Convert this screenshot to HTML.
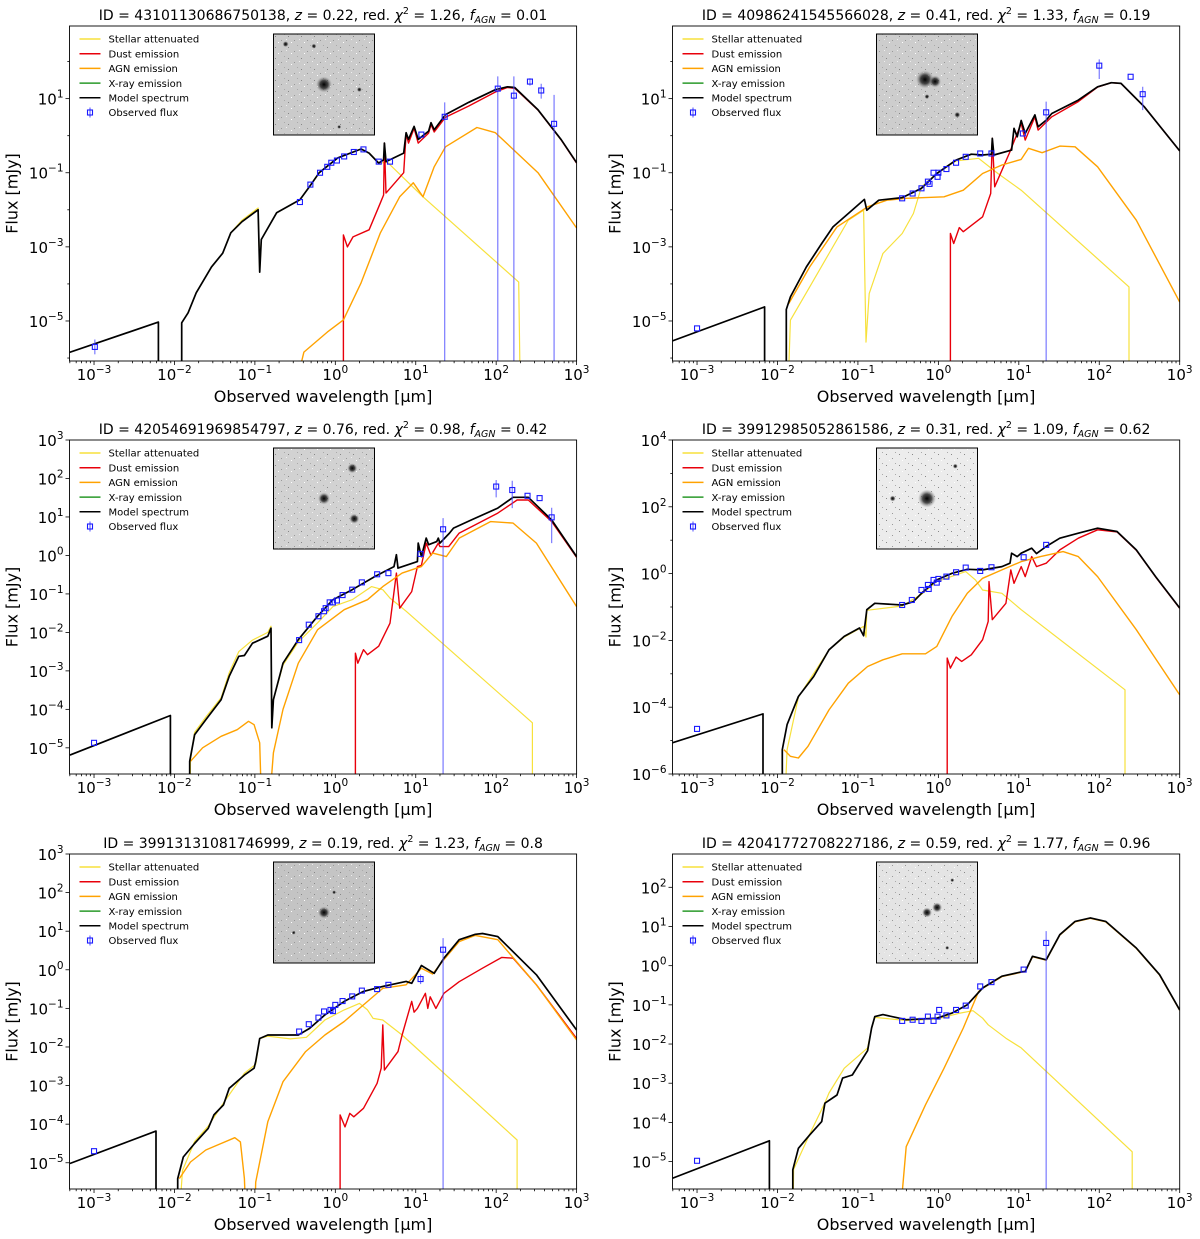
<!DOCTYPE html>
<html><head><meta charset="utf-8"><style>
html,body{margin:0;padding:0;background:#fff}
svg{display:block;font-family:"DejaVu Sans","Liberation Sans",sans-serif}
</style></head><body>
<svg id="fig" width="1200" height="1239" viewBox="0 0 1200 1239" xmlns="http://www.w3.org/2000/svg">
<defs>
<radialGradient id="blob"><stop offset="0" stop-color="#000"/><stop offset="0.5" stop-color="#222" stop-opacity="0.8"/><stop offset="1" stop-color="#888" stop-opacity="0"/></radialGradient>
<pattern id="speck" width="13" height="11" patternUnits="userSpaceOnUse"><rect x="2" y="3" width="1" height="1" fill="#888"/><rect x="8" y="7" width="1" height="1" fill="#999"/><rect x="11" y="1" width="1" height="1" fill="#aaa"/><rect x="5" y="9" width="1" height="1" fill="#fff"/><rect x="0" y="6" width="1" height="1" fill="#eee"/></pattern>
</defs>
</svg>
<script>
// ---- data (log10 wavelength [um], log10 flux [mJy]) ----
const xTickLabels = [-3,-2,-1,0,1,2,3];
const panelTitles = [
 ["43101130686750138","0.22","1.26","0.01"],
 ["40986241545566028","0.41","1.33","0.19"],
 ["42054691969854797","0.76","0.98","0.42"],
 ["39912985052861586","0.31","1.09","0.62"],
 ["39913131081746999","0.19","1.23","0.8"],
 ["42041772708227186","0.59","1.77","0.96"]];
const p1YLabels=[1,-1,-3,-5], p2YLabels=[1,-1,-3,-5], p3YLabels=[3,2,1,0,-1,-2,-3,-4,-5], p4YLabels=[4,2,0,-2,-4,-6], p5YLabels=[3,2,1,0,-1,-2,-3,-4,-5], p6YLabels=[2,1,0,-1,-2,-3,-4,-5];

const p1Model=[[-3.32,-5.86],[-2.2,-5.03],[-2.2,-7],[-1.91,-7],[-1.91,-5.05],[-1.83,-4.78],[-1.73,-4.24],[-1.54,-3.54],[-1.40,-3.17],[-1.30,-2.62],[-1.16,-2.32],[-0.96,-2.0],[-0.94,-3.68],[-0.92,-2.8],[-0.73,-2.08],[-0.44,-1.73],[-0.32,-1.37],[-0.2,-1.0],[0.03,-0.6],[0.32,-0.36],[0.42,-0.47],[0.54,-0.74],[0.6,-0.65],[0.61,-0.2],[0.63,-0.7],[0.85,-0.47],[0.88,0.08],[0.91,-0.1],[0.98,0.25],[1.03,-0.1],[1.16,0.12],[1.19,0.35],[1.23,0.16],[1.37,0.57],[1.66,0.9],[1.99,1.24],[2.14,1.32],[2.23,1.3],[2.52,0.7],[2.81,-0.11],[3.0,-0.73]];
const p1Stellar=[[-1.91,-7],[-1.91,-5.05],[-1.83,-4.78],[-1.73,-4.24],[-1.54,-3.54],[-1.40,-3.17],[-1.30,-2.62],[-1.16,-2.28],[-0.96,-1.95],[-0.94,-3.68],[-0.92,-2.8],[-0.73,-2.08],[-0.44,-1.73],[-0.32,-1.37],[-0.2,-1.0],[0.03,-0.6],[0.32,-0.36],[0.42,-0.47],[0.54,-0.74],[0.65,-0.72],[1.09,-1.65],[2.28,-3.95],[2.3,-7]];
const p1Dust=[[0.1,-7],[0.1,-2.68],[0.15,-3.0],[0.22,-2.73],[0.42,-2.54],[0.56,-1.81],[0.6,-1.6],[0.61,-0.2],[0.63,-1.55],[0.85,-1.0],[0.88,0.05],[0.91,-0.2],[0.98,0.2],[1.03,-0.2],[1.16,0.07],[1.19,0.3],[1.23,0.1],[1.37,0.5],[1.66,0.8],[1.99,1.18],[2.14,1.3],[2.23,1.28],[2.52,0.69],[2.81,-0.12],[3.0,-0.74]];
const p1Agn=[[-0.52,-7],[-0.39,-5.84],[-0.1,-5.3],[0.1,-4.97],[0.32,-3.97],[0.56,-2.62],[0.8,-1.65],[0.97,-1.27],[1.09,-1.65],[1.23,-0.84],[1.37,-0.3],[1.76,0.22],[1.99,0.08],[2.52,-1.0],[3.0,-2.49]];
const p1Obs=[[-2.99,-5.7],[-0.44,-1.79],[-0.31,-1.32],[-0.19,-1.0],[-0.1,-0.84],[-0.05,-0.73],[0.02,-0.67],[0.11,-0.56],[0.23,-0.44],[0.35,-0.37],[0.54,-0.7],[0.68,-0.7],[1.07,0.03],[1.36,0.51],[2.02,1.27],[2.22,1.08],[2.42,1.46],[2.56,1.22],[2.72,0.32]];
const p1Err=[[-2.99,-5.9,-5.5],[1.36,-7,0.9],[2.02,-7,1.6],[2.22,-7,1.6],[2.42,1.35,1.55],[2.56,1.0,1.4],[2.72,-7,1.1]];

const p2Model=[[-3.31,-5.54],[-2.16,-4.62],[-2.16,-7],[-1.89,-7],[-1.89,-4.69],[-1.84,-4.35],[-1.64,-3.54],[-1.45,-2.91],[-1.31,-2.46],[-1.12,-2.1],[-0.92,-1.72],[-0.89,-2.01],[-0.74,-1.74],[-0.45,-1.67],[-0.21,-1.42],[-0.02,-1.02],[0.22,-0.66],[0.41,-0.5],[0.55,-0.52],[0.66,-0.5],[0.67,-0.07],[0.69,-0.52],[0.91,-0.39],[0.94,0.2],[0.98,-0.03],[1.03,0.41],[1.08,0.06],[1.2,0.56],[1.24,0.24],[1.34,0.42],[1.41,0.6],[1.74,0.96],[1.98,1.32],[2.15,1.43],[2.27,1.41],[2.56,0.78],[3.0,-0.41]];
const p2Stellar=[[-1.87,-7],[-1.84,-4.98],[-1.6,-4.08],[-1.36,-3.18],[-1.12,-2.28],[-0.93,-2.01],[-0.9,-5.57],[-0.86,-4.26],[-0.69,-3.18],[-0.45,-2.64],[-0.31,-2.1],[-0.21,-1.38],[-0.02,-1.02],[0.22,-0.68],[0.5,-0.61],[0.74,-1.02],[1.03,-1.47],[2.37,-4.08],[2.37,-7]];
const p2Dust=[[0.15,-7],[0.15,-2.64],[0.19,-2.91],[0.26,-2.48],[0.31,-2.59],[0.55,-2.19],[0.65,-1.56],[0.67,-0.07],[0.7,-1.38],[0.88,-0.48],[1.03,0.33],[1.08,-0.12],[1.2,0.51],[1.24,0.15],[1.41,0.51],[1.74,0.92],[1.98,1.31],[2.15,1.43],[2.27,1.41],[2.56,0.78],[3.0,-0.41]];
const p2Agn=[[-1.86,-4.53],[-1.6,-3.54],[-1.26,-2.46],[-0.88,-1.92],[-0.64,-1.74],[-0.4,-1.69],[0.07,-1.65],[0.31,-1.47],[0.55,-1.02],[0.79,-0.79],[1.03,-0.64],[1.12,-0.34],[1.29,-0.46],[1.51,-0.28],[1.7,-0.3],[1.98,-0.84],[2.46,-2.28],[3.0,-4.49]];
const p2Obs=[[-3.0,-5.2],[-0.45,-1.69],[-0.32,-1.56],[-0.21,-1.42],[-0.13,-1.24],[-0.11,-1.3],[-0.06,-1.0],[-0.01,-1.11],[0.0,-1.0],[0.1,-0.9],[0.22,-0.73],[0.34,-0.57],[0.52,-0.48],[0.66,-0.48],[1.05,0.06],[1.34,0.63],[2.0,1.89],[2.39,1.59],[2.54,1.12]];
const p2Err=[[1.34,-7,0.92],[2.0,1.53,2.06],[2.54,0.69,1.32]];

const p3Model=[[-3.3,-5.19],[-2.05,-4.16],[-2.05,-7],[-1.81,-7],[-1.81,-5.35],[-1.75,-4.66],[-1.61,-4.27],[-1.42,-3.75],[-1.32,-3.14],[-1.2,-2.62],[-1.13,-2.6],[-1.03,-2.28],[-0.84,-2.1],[-0.8,-1.89],[-0.79,-4.48],[-0.77,-3.75],[-0.65,-2.8],[-0.46,-2.19],[-0.22,-1.58],[-0.03,-1.15],[0.21,-0.89],[0.49,-0.55],[0.73,-0.29],[0.76,0.02],[0.78,-0.33],[1.02,-0.16],[1.03,0.32],[1.07,-0.03],[1.13,0.45],[1.16,0.28],[1.26,0.36],[1.28,0.45],[1.3,0.32],[1.42,0.58],[1.47,0.71],[1.69,0.92],[2.02,1.23],[2.21,1.51],[2.4,1.51],[2.69,0.92],[3.0,-0.03]];
const p3Stellar=[[-1.81,-7],[-1.8,-5.3],[-1.75,-4.6],[-1.61,-4.2],[-1.42,-3.7],[-1.32,-3.05],[-1.2,-2.5],[-1.03,-2.2],[-0.84,-2.0],[-0.8,-1.84],[-0.79,-4.48],[-0.77,-3.75],[-0.65,-2.85],[-0.46,-2.25],[-0.22,-1.75],[-0.03,-1.33],[0.21,-1.15],[0.45,-0.81],[0.59,-0.89],[0.68,-1.11],[0.88,-1.45],[2.45,-4.35],[2.45,-7]];
const p3Dust=[[0.25,-7],[0.25,-2.54],[0.28,-2.8],[0.35,-2.45],[0.4,-2.58],[0.54,-2.36],[0.68,-1.76],[0.76,-0.46],[0.8,-1.37],[0.95,-0.94],[1.02,-0.29],[1.07,-0.26],[1.13,0.32],[1.19,0.0],[1.28,0.32],[1.3,0.23],[1.41,0.23],[1.54,0.58],[2.02,1.1],[2.26,1.44],[2.4,1.44],[2.69,0.88],[3.0,-0.05]];
const p3Agn=[[-1.8,-5.35],[-1.65,-5.0],[-1.42,-4.7],[-1.22,-4.53],[-1.08,-4.31],[-1.01,-4.4],[-0.94,-4.87],[-0.91,-7],[-0.84,-7],[-0.77,-5.13],[-0.65,-4.0],[-0.46,-2.8],[-0.22,-1.93],[0.11,-1.41],[0.4,-1.15],[0.59,-0.81],[0.83,-0.46],[1.07,-0.29],[1.21,0.06],[1.38,-0.03],[1.54,0.45],[1.93,0.88],[2.21,0.84],[2.5,0.32],[3.0,-1.33]];
const p3Obs=[[-3.0,-4.87],[-0.45,-2.2],[-0.33,-1.8],[-0.21,-1.58],[-0.14,-1.45],[-0.12,-1.37],[-0.07,-1.22],[-0.03,-1.22],[0.02,-1.17],[0.09,-1.03],[0.21,-0.89],[0.33,-0.7],[0.52,-0.49],[0.66,-0.46],[1.06,0.04],[1.34,0.68],[2.0,1.79],[2.2,1.7],[2.39,1.55],[2.54,1.49],[2.69,0.99]];
const p3Err=[[1.34,-7,0.97],[2.0,1.51,1.96],[2.2,1.23,1.94],[2.69,0.32,1.24]];

const p4Model=[[-3.31,-5.07],[-2.18,-4.2],[-2.18,-7],[-1.94,-7],[-1.94,-5.27],[-1.88,-4.52],[-1.74,-3.68],[-1.55,-3.08],[-1.36,-2.28],[-1.17,-1.88],[-0.98,-1.63],[-0.93,-1.86],[-0.89,-1.08],[-0.79,-0.89],[-0.45,-0.94],[-0.31,-0.84],[-0.21,-0.59],[-0.02,-0.19],[0.17,0.01],[0.36,0.13],[0.55,0.11],[0.79,0.21],[0.89,0.31],[0.91,0.61],[0.98,0.51],[1.03,0.61],[1.16,0.76],[1.22,0.6],[1.34,0.81],[1.51,1.06],[1.74,1.21],[1.98,1.36],[2.22,1.26],[2.46,0.71],[2.7,-0.09],[3.0,-1.03]];
const p4Stellar=[[-1.91,-7],[-1.88,-5.27],[-1.74,-3.7],[-1.36,-2.28],[-1.17,-1.9],[-0.93,-1.58],[-0.9,-1.9],[-0.89,-1.1],[-0.45,-0.97],[-0.21,-0.62],[-0.02,-0.24],[0.34,0.06],[0.46,-0.19],[0.55,-0.49],[0.79,-0.59],[1.03,-1.08],[2.32,-3.48],[2.32,-7]];
const p4Dust=[[0.11,-7],[0.11,-2.53],[0.15,-2.83],[0.22,-2.5],[0.29,-2.63],[0.41,-2.43],[0.55,-1.98],[0.62,-1.43],[0.63,-0.24],[0.67,-1.38],[0.84,-0.89],[0.9,0.11],[0.94,-0.29],[1.03,0.21],[1.08,-0.09],[1.16,0.51],[1.22,0.21],[1.34,0.31],[1.51,0.71],[1.74,1.06],[1.98,1.31],[2.22,1.25],[2.46,0.7],[2.7,-0.1],[3.0,-1.04]];
const p4Agn=[[-1.92,-5.27],[-1.84,-5.47],[-1.74,-5.52],[-1.62,-5.17],[-1.36,-4.08],[-1.12,-3.28],[-0.88,-2.78],[-0.69,-2.58],[-0.45,-2.4],[-0.16,-2.4],[-0.02,-2.18],[0.17,-1.28],[0.36,-0.59],[0.55,-0.14],[0.79,0.11],[1.03,0.36],[1.27,0.51],[1.55,0.66],[1.74,0.51],[1.98,-0.09],[2.46,-1.68],[3.0,-3.63]];
const p4Obs=[[-3.0,-4.65],[-0.45,-0.94],[-0.33,-0.79],[-0.21,-0.49],[-0.13,-0.34],[-0.12,-0.46],[-0.06,-0.19],[-0.02,-0.27],[0.0,-0.16],[0.1,-0.09],[0.22,0.04],[0.34,0.18],[0.52,0.08],[0.66,0.19],[1.06,0.49],[1.34,0.86]];
const p4Err=[];

const p5Model=[[-3.3,-5.02],[-2.23,-4.18],[-2.23,-7],[-1.96,-7],[-1.96,-5.41],[-1.89,-4.85],[-1.75,-4.5],[-1.58,-4.11],[-1.51,-3.76],[-1.39,-3.5],[-1.32,-3.07],[-1.13,-2.73],[-1.01,-2.55],[-0.99,-2.38],[-0.94,-1.78],[-0.84,-1.69],[-0.46,-1.69],[-0.32,-1.52],[-0.13,-1.17],[0.11,-0.82],[0.35,-0.56],[0.59,-0.43],[0.88,-0.3],[0.95,-0.35],[1.07,0.11],[1.23,-0.09],[1.35,0.3],[1.54,0.78],[1.74,0.92],[1.83,0.94],[2.02,0.86],[2.5,-0.13],[3.0,-1.56]];
const p5Stellar=[[-1.96,-7],[-1.9,-5.2],[-1.75,-4.45],[-1.58,-4.05],[-1.39,-3.45],[-1.13,-2.68],[-0.99,-2.45],[-0.94,-1.78],[-0.84,-1.72],[-0.56,-1.79],[-0.36,-1.75],[-0.13,-1.3],[0.11,-1.04],[0.3,-0.87],[0.4,-1.04],[0.47,-1.26],[0.59,-1.3],[0.83,-1.69],[2.26,-4.41],[2.26,-7]];
const p5Dust=[[0.06,-7],[0.06,-3.76],[0.12,-4.07],[0.18,-3.72],[0.23,-3.81],[0.35,-3.59],[0.52,-2.94],[0.57,-2.55],[0.59,-1.43],[0.61,-2.6],[0.78,-2.12],[0.83,-1.69],[0.95,-0.82],[0.98,-1.1],[1.02,-1.0],[1.12,-0.61],[1.15,-1.0],[1.18,-0.7],[1.25,-1.0],[1.35,-0.61],[1.54,-0.31],[1.83,0.04],[2.07,0.32],[2.21,0.3],[2.5,-0.39],[3.0,-1.78]];
const p5Agn=[[-1.94,-5.41],[-1.8,-4.98],[-1.61,-4.67],[-1.42,-4.5],[-1.25,-4.35],[-1.18,-4.46],[-1.13,-5.41],[-1.1,-7],[-1.01,-7],[-0.99,-5.5],[-0.84,-3.94],[-0.65,-2.9],[-0.37,-2.12],[-0.13,-1.69],[0.11,-1.34],[0.35,-0.91],[0.59,-0.48],[0.88,-0.39],[1.07,0.04],[1.21,-0.11],[1.35,0.26],[1.54,0.73],[1.74,0.89],[2.02,0.78],[2.5,-0.39],[3.0,-1.82]];
const p5Obs=[[-3.0,-4.7],[-0.45,-1.6],[-0.33,-1.41],[-0.21,-1.24],[-0.14,-1.08],[-0.06,-1.04],[-0.03,-1.07],[0.0,-0.91],[0.09,-0.81],[0.21,-0.69],[0.33,-0.54],[0.52,-0.5],[0.66,-0.39],[1.06,-0.24],[1.34,0.52]];
const p5Err=[[1.34,-7,0.82],[1.06,-0.37,-0.12]];

const p6Model=[[-3.31,-5.43],[-2.1,-4.47],[-2.1,-7],[-1.81,-7],[-1.81,-5.21],[-1.74,-4.66],[-1.6,-4.32],[-1.45,-3.98],[-1.41,-3.51],[-1.26,-3.3],[-1.19,-2.87],[-1.07,-2.79],[-0.88,-2.17],[-0.83,-1.59],[-0.79,-1.3],[-0.69,-1.25],[-0.4,-1.38],[-0.02,-1.34],[0.17,-1.21],[0.36,-1.0],[0.55,-0.57],[0.79,-0.27],[1.03,-0.16],[1.08,-0.15],[1.17,0.24],[1.34,0.15],[1.51,0.79],[1.7,1.13],[1.89,1.22],[2.08,1.13],[2.46,0.45],[2.75,-0.23],[3.0,-1.13]];
const p6Stellar=[[-1.81,-7],[-1.8,-5.2],[-1.6,-4.3],[-1.41,-3.5],[-1.36,-3.25],[-1.17,-2.62],[-0.88,-2.1],[-0.83,-1.6],[-0.79,-1.32],[-0.4,-1.4],[-0.02,-1.36],[0.27,-1.21],[0.43,-1.15],[0.55,-1.34],[0.62,-1.51],[0.84,-1.85],[1.03,-2.1],[2.41,-4.75],[2.41,-7]];
const p6Dust=[];
const p6Agn=[[-0.5,-7],[-0.4,-4.62],[-0.16,-3.55],[0.07,-2.62],[0.31,-1.59],[0.5,-0.66],[0.55,-0.58],[0.79,-0.28],[1.03,-0.17],[1.08,-0.16],[1.17,0.23],[1.34,0.14],[1.51,0.78],[1.7,1.12],[1.89,1.21],[2.08,1.12],[2.46,0.44],[2.75,-0.24],[3.0,-1.14]];
const p6Obs=[[-3.0,-4.98],[-0.45,-1.41],[-0.32,-1.38],[-0.21,-1.41],[-0.13,-1.3],[-0.06,-1.41],[-0.01,-1.3],[0.01,-1.13],[0.1,-1.27],[0.22,-1.13],[0.34,-1.02],[0.52,-0.53],[0.66,-0.42],[1.06,-0.1],[1.34,0.58]];
const p6Err=[[1.34,-7,0.88]];

// ---- layout ----
const svg=document.getElementById('fig');
const NS='http://www.w3.org/2000/svg';
const L={x0:69.5,x1:576.6}, R={x0:672.5,x1:1179.7};
const panels=[
 {c:L,y0:26,y1:361,ymin:-6.08,ymax:2.96,yl:p1YLabels,m:p1Model,s:p1Stellar,d:p1Dust,a:p1Agn,o:p1Obs,e:p1Err,inset:'#cbcbcb'},
 {c:R,y0:26,y1:361,ymin:-6.08,ymax:2.96,yl:p2YLabels,m:p2Model,s:p2Stellar,d:p2Dust,a:p2Agn,o:p2Obs,e:p2Err,inset:'#cdcdcd'},
 {c:L,y0:440,y1:774,ymin:-5.68,ymax:3,yl:p3YLabels,m:p3Model,s:p3Stellar,d:p3Dust,a:p3Agn,o:p3Obs,e:p3Err,inset:'#d2d2d2'},
 {c:R,y0:440,y1:774,ymin:-6,ymax:4,yl:p4YLabels,m:p4Model,s:p4Stellar,d:p4Dust,a:p4Agn,o:p4Obs,e:p4Err,inset:'#ececec'},
 {c:L,y0:854,y1:1189,ymin:-5.68,ymax:3,yl:p5YLabels,m:p5Model,s:p5Stellar,d:p5Dust,a:p5Agn,o:p5Obs,e:p5Err,inset:'#c4c4c4'},
 {c:R,y0:854,y1:1189,ymin:-5.7,ymax:2.85,yl:p6YLabels,m:p6Model,s:p6Stellar,d:p6Dust,a:p6Agn,o:p6Obs,e:p6Err,inset:'#e4e4e4'}];
const XMIN=-3.305, XMAX=3.0;
const blobs=[[[0.5,0.5,8],[0.12,0.1,3],[0.4,0.12,2.5],[0.85,0.55,2.5],[0.65,0.92,2]],[[0.48,0.45,9],[0.58,0.47,6],[0.5,0.62,2.5],[0.8,0.8,3]],[[0.5,0.5,6],[0.78,0.2,5],[0.8,0.7,5]],[[0.5,0.5,9],[0.16,0.5,3],[0.78,0.18,2.5]],[[0.5,0.5,6],[0.6,0.3,2],[0.2,0.7,2]],[[0.5,0.5,5],[0.6,0.45,5],[0.75,0.18,2],[0.7,0.85,2]]];

function el(tag,attrs,parent){const e=document.createElementNS(NS,tag);for(const k in attrs)e.setAttribute(k,attrs[k]);(parent||svg).appendChild(e);return e;}

panels.forEach((p,i)=>{
  const W=p.c.x1-p.c.x0, H=p.y1-p.y0;
  const sx=v=>p.c.x0+(v-XMIN)/(XMAX-XMIN)*W;
  const sy=v=>p.y0+(p.ymax-v)/(p.ymax-p.ymin)*H;
  const g=el('g',{});
  
  
  const cp=el('clipPath',{id:'clip'+i},g); el('rect',{x:p.c.x0,y:p.y0,width:W,height:H},cp);
  const t=panelTitles[i];
  const tt=el('text',{x:(p.c.x0+p.c.x1)/2,y:p.y0-6,'text-anchor':'middle','font-size':'14'},g);
  
  
  tt.innerHTML='ID = '+t[0]+', <tspan font-style="italic">z</tspan> = '+t[1]+', red. <tspan font-style="italic">χ</tspan><tspan dy="-6" font-size="9.5">2</tspan><tspan dy="6"> = '+t[2]+', </tspan><tspan font-style="italic">f</tspan><tspan font-style="italic" font-size="9.5" dy="3">AGN</tspan><tspan dy="-3"> = '+t[3]+'</tspan>';
  const ix=p.c.x0+204, iy=p.y0+8, iw=101, ih=101;
  const ins=el('g',{},g);
  
  
  el('rect',{x:ix,y:iy,width:iw,height:ih,fill:p.inset},ins);
  el('rect',{x:ix,y:iy,width:iw,height:ih,fill:'url(#speck)'},ins);
  blobs[i].forEach(b=>el('circle',{cx:ix+b[0]*iw,cy:iy+b[1]*ih,r:b[2],fill:'url(#blob)'},ins));
  el('rect',{x:ix,y:iy,width:iw,height:ih,fill:'none',stroke:'#000','stroke-width':1},ins);
  const plot=el('g',{'clip-path':'url(#clip'+i+')'},g);
  const line=(arr,color,w,name)=>{ if(!arr.length)return; const pl=el('polyline',{points:arr.map(q=>sx(q[0]).toFixed(1)+','+sy(q[1]).toFixed(1)).join(' '),fill:'none',stroke:color,'stroke-width':w,'stroke-linejoin':'round'},plot);
    
    };
  line(p.s,'#f7e13c',1.2,'stellar-attenuated-line');
  line(p.d,'#e8000b',1.4,'dust-emission-line');
  line(p.a,'#ffa200',1.4,'agn-emission-line');
  line(p.m,'#000',1.7,'model-spectrum-line');
  p.e.forEach(q=>{const ln=el('line',{x1:sx(q[0]),x2:sx(q[0]),y1:sy(q[1]),y2:sy(q[2]),stroke:'#4d4dff','stroke-opacity':0.75,'stroke-width':1.2},plot);
    
    });
  p.o.forEach(q=>{const r=el('rect',{x:sx(q[0])-2.5,y:sy(q[1])-2.5,width:5,height:5,fill:'none',stroke:'#1a1aff','stroke-width':1.1},plot);
    
    });
  el('rect',{x:p.c.x0,y:p.y0,width:W,height:H,fill:'none',stroke:'#000','stroke-width':0.9},g);
  for(let d=-4;d<=3;d++){for(let k=1;k<=9;k++){const v=d+Math.log10(k); if(v<XMIN-1e-6||v>XMAX+1e-6)continue; const len=k===1?4:2.2; el('line',{x1:sx(v),x2:sx(v),y1:p.y1,y2:p.y1+len,stroke:'#000','stroke-width':0.8},g);}}
  xTickLabels.forEach(v=>{const tx=el('text',{x:sx(v),y:p.y1+19,'text-anchor':'middle','font-size':'15'},g);
    
    
    tx.innerHTML='10<tspan dy="-7" font-size="10.5">'+(v<0?'−'+(-v):v)+'</tspan>';});
  for(let d=Math.ceil(p.ymin);d<=Math.floor(p.ymax);d++){const len=p.yl.includes(d)?4:2.2; el('line',{x1:p.c.x0-len,x2:p.c.x0,y1:sy(d),y2:sy(d),stroke:'#000','stroke-width':0.8},g);}
  p.yl.forEach(v=>{const ty=el('text',{x:p.c.x0-6,y:sy(v)+6,'text-anchor':'end','font-size':'15'},g);
    
    
    ty.innerHTML='10<tspan dy="-7" font-size="10.5">'+(v<0?'−'+(-v):v)+'</tspan>';});
  const xt=el('text',{x:(p.c.x0+p.c.x1)/2,y:p.y1+41,'text-anchor':'middle','font-size':'16'},g);
  
  
  xt.textContent='Observed wavelength [μm]';
  const yx=p.c.x0-52, yy=(p.y0+p.y1)/2;
  const yt=el('text',{x:yx,y:yy,'text-anchor':'middle','font-size':'16',transform:'rotate(-90 '+yx+' '+yy+')'},g);
  
  
  yt.textContent='Flux [mJy]';
  const lg=el('g',{},g);
  
  
  const items=[['Stellar attenuated','#f7e13c'],['Dust emission','#e8000b'],['AGN emission','#ffa200'],['X-ray emission','#2a9a2a'],['Model spectrum','#000'],['Observed flux',null]];
  items.forEach((it,j)=>{const ly=p.y0+13+j*14.7, lx=p.c.x0+10;
    if(it[1]) el('line',{x1:lx,x2:lx+21,y1:ly,y2:ly,stroke:it[1],'stroke-width':1.5},lg);
    else {el('line',{x1:lx+10.5,x2:lx+10.5,y1:ly-5,y2:ly+5,stroke:'#4d4dff','stroke-width':1},lg); el('rect',{x:lx+8,y:ly-2.5,width:5,height:5,fill:'none',stroke:'#1a1aff','stroke-width':1.1},lg);}
    const lt=el('text',{x:lx+29,y:ly+3.7,'font-size':'10'},lg);
    
    
    lt.textContent=it[0];});
});
</script>
</body></html>
